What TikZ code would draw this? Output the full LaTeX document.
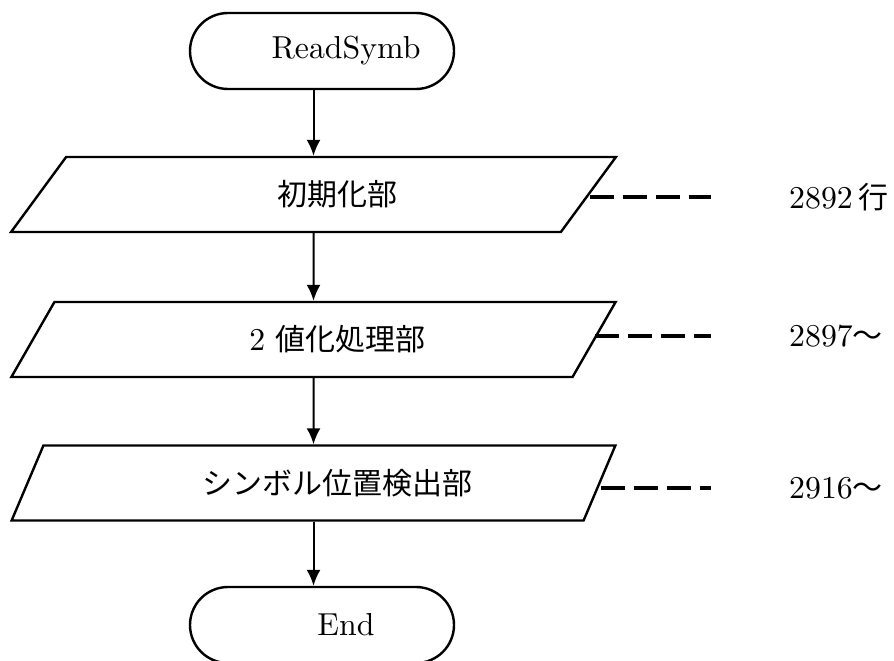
\documentclass[tikz,border=0pt]{standalone}
\usepackage{fontspec}
\setmainfont{lmroman10-regular.otf}[Scale=1.06]
\newfontfamily\jpfont{Noto Sans CJK JP}
\usetikzlibrary{
  shapes.geometric,
  shapes.misc,
  arrows.meta}

\begin{document}
\begin{tikzpicture}[
  x=1pt, y=-1pt,
  every node/.style={font=\fontsize{30}{36}\selectfont},
  terminal/.style={rounded rectangle, draw, line width=2.4pt, minimum width=264pt, minimum height=76pt, inner sep=0pt, execute at begin node=\hspace*{48pt}},
  iobox/.style={trapezium, trapezium left angle=56, trapezium right angle=124, trapezium stretches=true, draw, line width=2.4pt, minimum width=605pt, minimum height=75pt, inner sep=0pt, execute at begin node=\hspace*{48pt}},
  flow/.style={line width=2pt, -{Latex[length=16pt,width=14pt]}},
  lead/.style={line width=4.5pt, dash pattern=on 24pt off 9pt},
  lineno/.style={anchor=west, inner sep=0pt},
]
\path[use as bounding box] (0,0) rectangle (894,661);
\node[terminal] (start) at (322,51) {ReadSymb};
\node[iobox] (init) at (313.5,194.5) {\jpfont 初期化部};
\node[iobox] (bin) at (313.5,339.5) {2 {\jpfont 値化処理部}};
\node[iobox] (detect) at (313.5,483) {\jpfont シンボル位置検出部};
\node[terminal] (end) at (322,625) {End};
\node[lineno] (l1) at (789,197) {2892\hspace{6pt}{\jpfont 行}};
\node[lineno] (l2) at (789,336) {2897{\jpfont ～}};
\node[lineno] (l3) at (789,488) {2916{\jpfont ～}};
\draw[flow] (init.north |- start.south) -- (init.north);
\draw[flow] (init.south) -- (bin.north);
\draw[flow] (bin.south) -- (detect.north);
\draw[flow] (detect.south) -- (detect.south |- end.north);
\draw[lead] (init.east |- l1) -- ([xshift=-78pt]l1.west);
\draw[lead] (bin.east |- l2) -- ([xshift=-78pt]l2.west);
\draw[lead] (detect.east |- l3) -- ([xshift=-78pt]l3.west);
\end{tikzpicture}
\end{document}
